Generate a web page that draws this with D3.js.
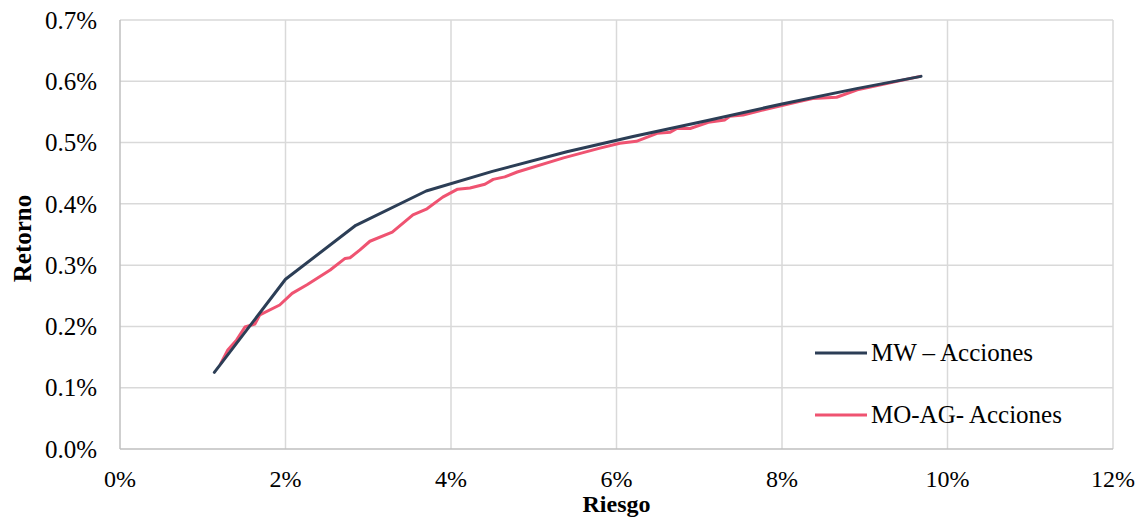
<!DOCTYPE html>
<html>
<head>
<meta charset="utf-8">
<script src="https://cdn.jsdelivr.net/npm/d3@7"></script>
<style>
  body { margin: 0; background: #fff; }
  svg text { font-family: "Liberation Serif", "Times New Roman", serif; fill: #000; }
</style>
</head>
<body>
<div id="chart"></div>
<script>
// riesgo (%) / retorno (%)
const mw_riesgo  = [1.14, 2.0, 2.85, 3.7, 4.5, 5.4, 6.2, 7.1, 8.0, 8.9, 9.68];
const mw_retorno = [0.125, 0.277, 0.365, 0.421, 0.453, 0.485, 0.510, 0.536, 0.563, 0.588, 0.608];

const mo_riesgo  = [1.22, 1.30, 1.41, 1.51, 1.63, 1.69, 1.93, 2.08, 2.26, 2.54, 2.72, 2.78,
                    2.90, 3.02, 3.29, 3.54, 3.71, 3.90, 4.08, 4.23, 4.41, 4.51, 4.65, 4.80,
                    5.36, 5.80, 6.04, 6.24, 6.49, 6.65, 6.73, 6.89, 7.11, 7.31, 7.37, 7.53,
                    7.73, 8.18, 8.37, 8.66, 8.91, 9.18, 9.67];
const mo_retorno = [0.140, 0.161, 0.178, 0.199, 0.204, 0.219, 0.235, 0.254, 0.268, 0.292, 0.311, 0.312,
                    0.325, 0.339, 0.354, 0.382, 0.392, 0.411, 0.424, 0.426, 0.432, 0.440, 0.444, 0.452,
                    0.475, 0.491, 0.499, 0.502, 0.515, 0.517, 0.523, 0.523, 0.533, 0.537, 0.543, 0.545,
                    0.552, 0.566, 0.572, 0.574, 0.586, 0.594, 0.608];

const x_ticks = [0, 2, 4, 6, 8, 10, 12];
const y_ticks = [0, 0.1, 0.2, 0.3, 0.4, 0.5, 0.6, 0.7];

const series = [
    {name: "MW \u2013 Acciones", x: mw_riesgo, y: mw_retorno, color: "#2c3e56"},
    {name: "MO-AG- Acciones", x: mo_riesgo, y: mo_retorno, color: "#ef5371"}
];

const margin = {top: 20, right: 28, bottom: 68, left: 120};
const full_width = 1141, full_height = 517;
const width = full_width - margin.left - margin.right;
const height = full_height - margin.top - margin.bottom;

const svg = d3.select("#chart").append("svg")
    .attr("width", full_width)
    .attr("height", full_height);

const g = svg.append("g")
    .attr("transform", "translate(" + margin.left + "," + margin.top + ")");

const x = d3.scaleLinear().domain([0, 12]).range([0, width]);
const y = d3.scaleLinear().domain([0, 0.7]).range([height, 0]);

// grid
g.append("g").selectAll("line")
    .data(y_ticks.slice(1))
    .enter().append("line")
    .attr("x1", 0).attr("x2", width)
    .attr("y1", d => y(d)).attr("y2", d => y(d))
    .attr("stroke", "#d9d9d9").attr("stroke-width", 1.5);

g.append("g").selectAll("line")
    .data(x_ticks.slice(1))
    .enter().append("line")
    .attr("x1", d => x(d)).attr("x2", d => x(d))
    .attr("y1", 0).attr("y2", height)
    .attr("stroke", "#d9d9d9").attr("stroke-width", 1.5);

// axis lines
g.append("line").attr("x1", 0).attr("x2", 0).attr("y1", 0).attr("y2", height)
    .attr("stroke", "#bfbfbf").attr("stroke-width", 1.5);
g.append("line").attr("x1", 0).attr("x2", width).attr("y1", height).attr("y2", height)
    .attr("stroke", "#bfbfbf").attr("stroke-width", 1.5);

// tick labels
g.append("g").selectAll("text")
    .data(y_ticks)
    .enter().append("text")
    .attr("x", -23)
    .attr("y", d => y(d))
    .attr("dy", "0.35em")
    .attr("text-anchor", "end")
    .style("font-size", "25px")
    .text(d => d3.format(".1f")(d) + "%");

g.append("g").selectAll("text")
    .data(x_ticks)
    .enter().append("text")
    .attr("x", d => x(d))
    .attr("y", height + 38)
    .attr("text-anchor", "middle")
    .style("font-size", "24px")
    .text(d => d + "%");

// axis titles
svg.append("text")
    .attr("x", margin.left + width / 2)
    .attr("y", 512)
    .attr("text-anchor", "middle")
    .style("font-size", "24px")
    .style("font-weight", "bold")
    .text("Riesgo");

svg.append("text")
    .attr("transform", "translate(31," + (margin.top + height / 2 + 4) + ") rotate(-90)")
    .attr("text-anchor", "middle")
    .style("font-size", "25px")
    .style("font-weight", "bold")
    .text("Retorno");

// lines
const line = d3.line()
    .x(d => x(d[0]))
    .y(d => y(d[1]));

series.slice().reverse().forEach(function (s) {
    g.append("path")
        .datum(d3.zip(s.x, s.y))
        .attr("fill", "none")
        .attr("stroke", s.color)
        .attr("stroke-width", 3)
        .attr("stroke-linejoin", "round")
        .attr("stroke-linecap", "round")
        .attr("d", line);
});

// legend
const legend = svg.append("g").attr("transform", "translate(815,353)");
series.forEach(function (s, i) {
    const row = legend.append("g").attr("transform", "translate(0," + (i * 62) + ")");
    row.append("line")
        .attr("x1", 0).attr("x2", 52)
        .attr("stroke", s.color).attr("stroke-width", 3);
    row.append("text")
        .attr("x", 56)
        .attr("dy", "0.33em")
        .style("font-size", "25px")
        .text(s.name);
});
</script>
</body>
</html>
